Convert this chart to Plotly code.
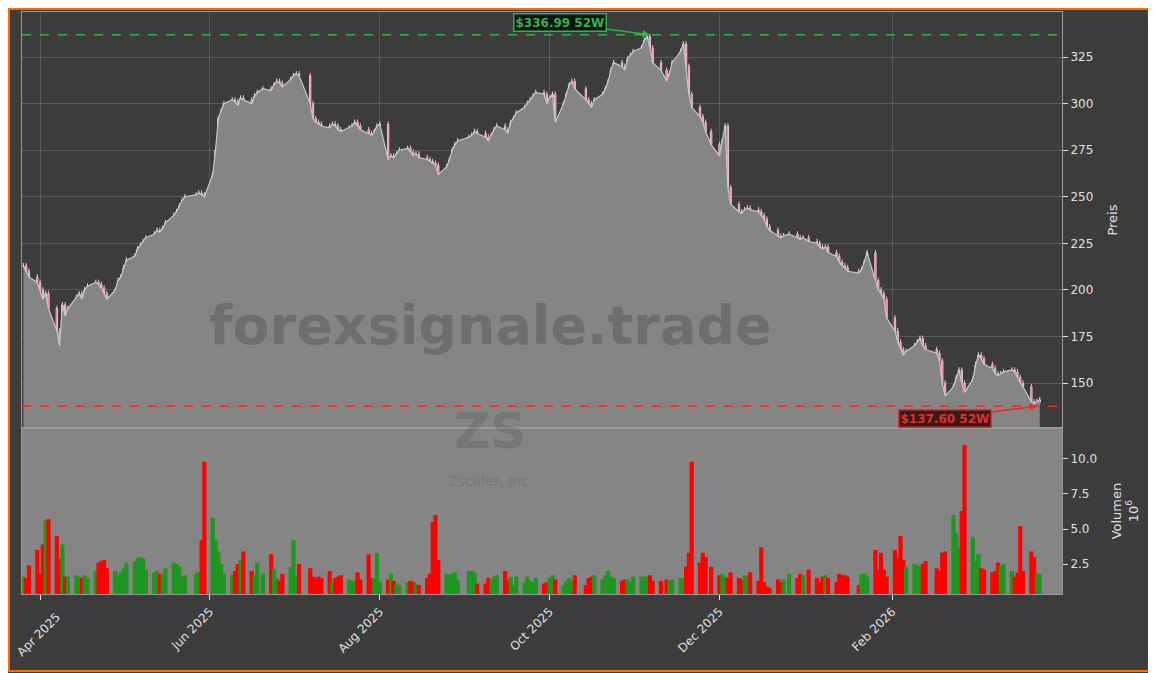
import pandas as pd
import plotly.graph_objects as go
from plotly.subplots import make_subplots
from pandas.tseries.holiday import USFederalHolidayCalendar
from pandas.tseries.offsets import CustomBusinessDay

# daily closes (Mar 2025 .. Mar 2026)
closes = [
    213, 210, 207, 204, 200,
    195, 198, 190, 178, 170, 192, 186, 190, 196, 198, 195, 200, 202, 204, 203, 201, 198, 195, 200, 205, 207,
    212, 216, 218, 222, 224, 226, 228, 230, 232, 231, 233, 236, 240, 242, 245, 248, 250, 251, 252, 251, 250,
    262, 275, 292, 296, 300, 302, 301, 299, 303, 302, 300, 304, 306, 308, 307, 310, 312, 311, 309, 313, 315,
    316, 315, 300, 292, 290, 289, 288, 287, 289, 288, 286, 285, 287, 288, 290, 288, 286, 284, 283, 285, 288, 289,
    270, 272, 271, 273, 275, 276, 274, 272, 273, 271, 270, 269, 268, 267, 262, 266, 270, 275, 278, 280, 282,
    283, 285, 284, 282, 280, 283, 286, 288, 286, 284, 290, 292, 295, 298, 300, 302, 304, 306, 305, 300, 303,
    305, 290, 300, 305, 310, 312, 308, 302, 300, 298, 302, 305, 308, 312, 318, 322, 320, 318, 324, 326, 328, 330, 334,
    336, 330, 322, 318, 312, 316, 322, 328, 332, 320, 305, 298, 293, 290, 285, 278, 272, 280, 288,
    255, 246, 242, 241, 243, 244, 243, 242, 240, 238, 234, 232, 229, 228, 229, 230, 228, 227, 228, 226, 225, 223,
    222, 223, 220, 218, 215, 213, 212, 210, 209, 211, 215, 220, 205, 200, 198, 195, 185, 178, 172, 168,
    165, 167, 170, 172, 174, 170, 168, 166, 162, 150, 143, 148, 153, 157, 150, 145, 152, 160, 165,
    163, 160, 158, 155, 154, 155, 156, 157, 156, 153, 150, 148, 140, 139, 140, 141,
]

# volume in millions
volumes = [
    1.6, 1.5, 2.4, 3.5, 1.8,
    3.9, 5.6, 5.7, 4.5, 2.9, 3.9, 1.6, 1.6, 1.7, 1.6, 1.5, 1.7, 1.5, 2.0, 2.6, 2.7, 2.8, 2.2, 2.0, 1.6, 1.9,
    2.2, 2.6, 2.7, 2.9, 3.0, 2.9, 2.1, 1.9, 2.0, 1.8, 1.7, 2.2, 2.6, 2.5, 2.3, 1.6, 1.7, 1.8, 1.9, 4.2, 9.8,
    5.8, 4.2, 3.4, 2.5, 1.8, 1.7, 2.0, 2.5, 2.8, 3.4, 2.0, 1.7, 2.6, 1.8, 3.2, 2.1, 1.5, 1.3, 1.8, 2.3, 4.2,
    1.7, 2.5, 2.2, 1.6, 1.5, 1.6, 1.5, 2.0, 1.2, 1.5, 1.6, 1.7, 1.4, 1.3, 1.3, 1.9, 1.4, 3.2, 1.5, 1.5, 3.3, 1.2,
    1.4, 1.8, 1.3, 1.1, 1.0, 1.2, 1.3, 1.2, 1.1, 1.0, 1.5, 1.8, 5.5, 6.0, 2.8, 1.8, 1.7, 1.8, 1.9, 1.4, 2.0,
    2.0, 1.9, 1.1, 1.1, 1.5, 1.3, 1.6, 1.7, 2.0, 1.4, 1.6, 1.0, 1.6, 1.2, 1.6, 1.3, 1.2, 1.5, 1.1, 1.2, 1.5,
    1.7, 1.4, 1.0, 1.3, 1.5, 1.3, 1.7, 1.0, 1.5, 1.6, 1.7, 1.4, 1.7, 2.0, 1.6, 1.5, 1.3, 1.4, 1.4, 1.2, 1.6, 1.6, 1.6,
    1.6, 1.7, 1.3, 1.3, 1.4, 1.3, 1.4, 1.5, 1.5, 2.3, 3.3, 9.8, 2.6, 3.3, 3.0, 2.3, 1.7, 1.8, 1.6,
    1.5, 1.9, 1.5, 1.4, 1.7, 1.6, 1.9, 1.3, 3.7, 1.2, 0.9, 0.8, 1.4, 1.2, 1.4, 1.8, 1.5, 1.8, 1.7, 2.1, 1.5, 1.2,
    1.6, 1.7, 1.5, 1.2, 1.8, 1.7, 1.7, 1.6, 1.0, 1.8, 1.8, 1.6, 3.5, 2.1, 3.3, 2.1, 1.6, 3.5, 2.9, 4.5,
    2.8, 2.3, 2.5, 2.4, 2.3, 2.5, 2.7, 2.2, 2.0, 3.3, 3.4, 6.0, 4.7, 3.6, 6.3, 11.0, 4.4, 2.7, 3.2,
    2.2, 2.1, 1.9, 2.0, 2.6, 2.4, 2.5, 2.0, 1.6, 1.9, 5.2, 2.0, 3.4, 3.0, 1.8, 1.8,
]

tick_dates = ["2025-04-01", "2025-06-01", "2025-08-01", "2025-10-01", "2025-12-01", "2026-02-01"]
tick_labels = ["Apr 2025", "Jun 2025", "Aug 2025", "Oct 2025", "Dec 2025", "Feb 2026"]

high_52w = 336.99
low_52w = 137.60

trading_day = CustomBusinessDay(calendar=USFederalHolidayCalendar())
dates = pd.date_range("2025-03-26", periods=len(closes), freq=trading_day)
df = pd.DataFrame({"Date": dates, "Close": closes, "Volume": volumes})
df["Open"] = df["Close"].shift(1).fillna(df["Close"])
df["High"] = df[["Open", "Close"]].max(axis=1) + 1.5
df["Low"] = df[["Open", "Close"]].min(axis=1) - 1.5
df.loc[df["High"].idxmax(), "High"] = high_52w
df.loc[df["Low"].idxmin(), "Low"] = low_52w
vol_colors = ["#1f961f" if c >= o else "#ff0000" for o, c in zip(df.Open, df.Close)]

fig = make_subplots(rows=2, cols=1, shared_xaxes=True, vertical_spacing=0,
                    row_heights=[0.715, 0.285])

fig.add_trace(go.Scatter(x=df.Date, y=df.Close, mode="lines", fill="tozeroy",
                         fillcolor="#858585", line=dict(color="#c8c8c8", width=1.2),
                         hoverinfo="skip"), row=1, col=1)
fig.add_trace(go.Candlestick(x=df.Date, open=df.Open, high=df.High, low=df.Low, close=df.Close,
                             increasing=dict(line=dict(color="#cfe8cf", width=1), fillcolor="#6fd66f"),
                             decreasing=dict(line=dict(color="#f0c0cc", width=1), fillcolor="#ff4d70"),
                             whiskerwidth=0), row=1, col=1)
fig.add_trace(go.Bar(x=df.Date, y=df.Volume, width=86400000 * 1.5,
                     marker=dict(color=vol_colors, line_width=0)),
              row=2, col=1)

fig.add_hline(y=high_52w, line=dict(color="#2fb24f", dash="dash", width=1.5), row=1, col=1)
fig.add_hline(y=low_52w, line=dict(color="#e03030", dash="dash", width=1.5), row=1, col=1)

hi_date = df.loc[df["High"].idxmax(), "Date"]
lo_date = df.loc[df["Low"].idxmin(), "Date"]
fig.add_annotation(x=hi_date, y=high_52w, xref="x", yref="y", text="<b>$336.99 52W</b>",
                   showarrow=True, arrowhead=2, arrowcolor="#2fb24f", arrowwidth=1.5,
                   ax=-90, ay=-12, font=dict(color="#2fb24f", size=12, family="DejaVu Sans"),
                   bgcolor="#111111", bordercolor="#2fb24f", borderwidth=1.5, borderpad=1)
fig.add_annotation(x=lo_date, y=low_52w, xref="x", yref="y", text="<b>$137.60 52W</b>",
                   showarrow=True, arrowhead=2, arrowcolor="#e03030", arrowwidth=1.5,
                   ax=-92, ay=12, font=dict(color="#e03030", size=12, family="DejaVu Sans"),
                   bgcolor="#3a1a1a", bordercolor="#e03030", borderwidth=1.5, borderpad=1)

# first tick label as annotation (plotly drops it at the edge)
fig.add_annotation(x=tick_dates[0], y=-0.048, xref="x2", yref="paper", text=tick_labels[0],
                   textangle=-45, showarrow=False, xshift=-2, yshift=-40,
                   font=dict(size=12, color="#e0e0e0"))

# watermarks
fig.add_annotation(x=0.45, y=0.462, xref="paper", yref="paper", text="<b>forexsignale.trade</b>",
                   showarrow=False, font=dict(size=54, color="rgba(60,60,60,0.3)"))
fig.add_annotation(x=0.45, y=0.227, xref="paper", yref="paper", text="<b>ZS</b>",
                   showarrow=False, font=dict(size=50, color="rgba(60,60,60,0.2)"))
fig.add_annotation(x=0.45, y=0.177, xref="paper", yref="paper", text="Zscaler, Inc.",
                   showarrow=False, font=dict(size=14, color="rgba(60,60,60,0.2)"))

# volume panel background
fig.add_shape(type="rect", xref="x2 domain", yref="y2 domain", x0=0, x1=1, y0=0, y1=1,
              fillcolor="#858585", line_width=0, layer="below")
# outer orange frame
fig.add_shape(type="rect", xref="paper", yref="paper",
              x0=-13 / 1040, x1=1133 / 1040,
              y0=-77 / 582, y1=585 / 582,
              line=dict(color="#ff6a00", width=2))

fig.update_layout(
    width=1156, height=673, showlegend=False,
    paper_bgcolor="#3c3c3c", plot_bgcolor="#3c3c3c",
    margin=dict(l=14, r=102, t=4, b=87),
    font=dict(family="DejaVu Sans", color="#e0e0e0", size=12),
    xaxis_rangeslider_visible=False,
)
fig.update_xaxes(showgrid=True, gridcolor="rgba(200,200,200,0.2)", linecolor="#999999",
                 showline=True, mirror=True, tickvals=tick_dates, ticktext=[""] + tick_labels[1:],
                 range=["2025-03-25 12:00", "2026-04-03"])
fig.update_xaxes(showticklabels=False, row=1, col=1)
fig.update_xaxes(tickangle=-45, ticks="outside", tickcolor="#e0e0e0", showgrid=False, row=2, col=1)
fig.update_yaxes(side="right", showline=True, linecolor="#999999", mirror=True,
                 ticks="outside", tickcolor="#e0e0e0")
fig.update_yaxes(range=[125.8, 349.2], dtick=25, gridcolor="rgba(200,200,200,0.2)",
                 title=dict(text="Preis", font=dict(size=13)), row=1, col=1)
fig.update_yaxes(range=[0.36, 12.2], tickvals=[2.5, 5, 7.5, 10],
                 ticktext=["2.5", "5.0", "7.5", "10.0"], showgrid=False,
                 title=dict(text="Volumen<br>10<sup>6</sup>", font=dict(size=13)), row=2, col=1)

fig.write_html("out.html")
